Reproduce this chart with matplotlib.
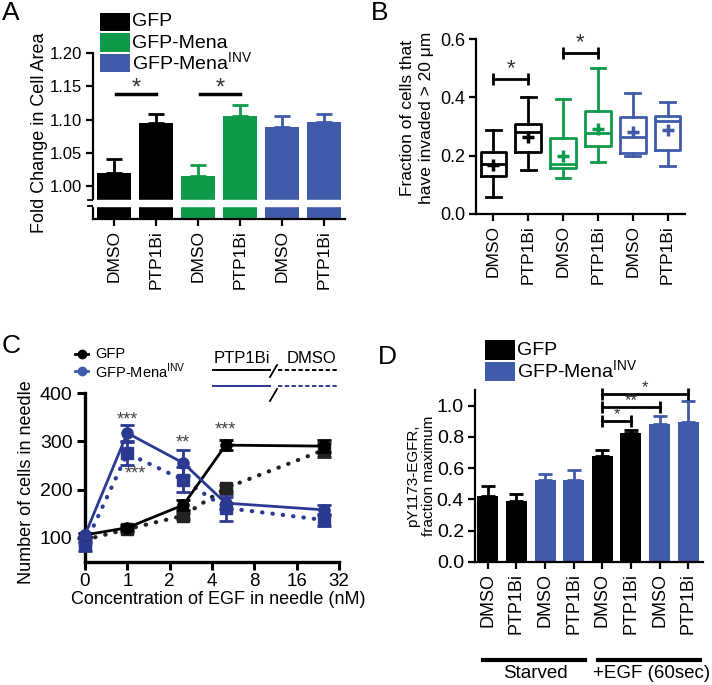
import matplotlib
matplotlib.use('Agg')
import matplotlib.pyplot as plt
from matplotlib.lines import Line2D
from matplotlib.patches import Rectangle
import numpy as np

plt.rcParams['font.family'] = ['Liberation Sans', 'DejaVu Sans']
plt.rcParams['mathtext.fontset'] = 'custom'
plt.rcParams['mathtext.rm'] = 'Liberation Sans'
plt.rcParams['axes.linewidth'] = 1.6
plt.rcParams['xtick.major.width'] = 1.6
plt.rcParams['ytick.major.width'] = 1.6

W, H = 712, 685
BLACK = '#000000'
GREEN = '#0f9a4b'
BLUE = '#3f5ba9'
NAVY = '#2b3990'
SQ = '#222222'
INV = 'GFP-Mena$^{\\mathregular{INV}}$'

# --- panel A: fold change in cell area
a_labels = ['DMSO', 'PTP1Bi', 'DMSO', 'PTP1Bi', 'DMSO', 'PTP1Bi']
a_means = [1.020, 1.095, 1.015, 1.106, 1.089, 1.096]
a_errs = [0.021, 0.013, 0.017, 0.016, 0.016, 0.012]
a_colors = [BLACK, BLACK, GREEN, GREEN, BLUE, BLUE]
a_yticks = [1.00, 1.05, 1.10, 1.15, 1.20]

# --- panel B: invasion box plots
b_labels = ['DMSO', 'PTP1Bi', 'DMSO', 'PTP1Bi', 'DMSO', 'PTP1Bi']
b_colors = [BLACK, BLACK, GREEN, GREEN, BLUE, BLUE]
b_whislo = [0.057, 0.151, 0.122, 0.177, 0.200, 0.163]
b_q1 = [0.130, 0.214, 0.157, 0.234, 0.210, 0.221]
b_med = [0.170, 0.280, 0.170, 0.278, 0.265, 0.319]
b_q3 = [0.214, 0.309, 0.259, 0.353, 0.334, 0.336]
b_whishi = [0.288, 0.401, 0.394, 0.502, 0.416, 0.384]
b_mean = [0.168, 0.263, 0.200, 0.293, 0.280, 0.288]

# --- panel C: cells in needle vs EGF
c_conc = [0, 1, 2.5, 5, 25]
c_xticklabels = ['0', '1', '2', '4', '8', '16', '32']
gfp_ptp = [106, 121, 168, 292, 290]
gfp_ptp_err = [5, 5, 10, 11, 12]
gfp_dmso = [96, 118, 146, 203, 282]
gfp_dmso_err = [5, 5, 6, 6, 15]
inv_ptp = [106, 317, 255, 172, 158]
inv_ptp_err = [5, 17, 27, 12, 10]
inv_dmso = [86, 275, 220, 162, 137]
inv_dmso_err = [14, 24, 26, 28, 12]

# --- panel D: pY1173-EGFR
d_labels = ['DMSO', 'PTP1Bi'] * 4
d_means = [0.420, 0.392, 0.525, 0.525, 0.680, 0.828, 0.883, 0.894]
d_errs = [0.068, 0.042, 0.035, 0.063, 0.038, 0.016, 0.053, 0.134]
d_colors = [BLACK, BLACK, BLUE, BLUE, BLACK, BLACK, BLUE, BLUE]

fig = plt.figure(figsize=(W / 100, H / 100), dpi=100)


def axes_px(left, top, right, bottom):
    return fig.add_axes([left / W, 1 - bottom / H, (right - left) / W, (bottom - top) / H])


def fline(xs, ys, **kw):
    fig.add_artist(Line2D(np.array(xs) / W, 1 - np.array(ys) / H,
                          transform=fig.transFigure, **kw))


def ftext(x, y, s, **kw):
    fig.text(x / W, 1 - y / H, s, **kw)


def frect(x0, y0, x1, y1, color):
    fig.add_artist(Rectangle((x0 / W, 1 - y1 / H), (x1 - x0) / W, (y1 - y0) / H,
                             transform=fig.transFigure, color=color, lw=0))


def bracket(ax, x1, x2, y, star, dy, fs=13, color='k', sc='#333333'):
    ax.plot([x1, x2], [y, y], color=color, lw=2, marker='|', ms=9, mew=2,
            clip_on=False)
    ax.text((x1 + x2) / 2, y + dy, star, ha='center', va='center',
            fontsize=fs, color=sc)


def style(ax):
    for s in ['top', 'right']:
        ax.spines[s].set_visible(False)
    ax.tick_params(direction='out', length=5, pad=3)


# ================= A =================
axA = axes_px(93, 53, 345, 219)
xa = np.arange(len(a_means))
axA.bar(xa, a_means, width=0.83, color=a_colors, zorder=2)
for i in xa:
    axA.errorbar(i, a_means[i], yerr=[[0], [a_errs[i]]], color=a_colors[i],
                 capsize=6, elinewidth=2, capthick=2, zorder=1)
axA.set_xlim(-0.5, 5.5)
axA.set_ylim(0.951, 1.20)
style(axA)
axA.spines['left'].set_visible(False)
axA.plot([-0.5, -0.5], [0.951, 0.970], color='k', lw=1.6, clip_on=False)
axA.plot([-0.5, -0.5], [0.980, 1.20], color='k', lw=1.6, clip_on=False)
axA.plot([-0.62, -0.5], [0.970, 0.970], color='k', lw=1.3, clip_on=False)
axA.plot([-0.62, -0.5], [0.980, 0.980], color='k', lw=1.3, clip_on=False)
axA.axhspan(0.970, 0.980, color='white', zorder=5)
axA.set_yticks(a_yticks)
axA.set_yticklabels(['%.2f' % v for v in a_yticks], fontsize=12)
axA.set_xticks(xa)
axA.set_xticklabels(a_labels, rotation=90, fontsize=12.5)
axA.plot([0.05, 1.0], [1.139, 1.139], color='k', lw=2.5)
axA.text(0.52, 1.147, '*', ha='center', va='center', fontsize=17, color='#333333')
axA.plot([2.05, 3.0], [1.139, 1.139], color='k', lw=2.5)
axA.text(2.52, 1.147, '*', ha='center', va='center', fontsize=17, color='#333333')

ftext(40, 133, 'Fold Change in Cell Area', rotation=90, ha='center', va='center', fontsize=13)
frect(100, 13, 130, 31, BLACK)
frect(100, 33, 130, 52, GREEN)
frect(100, 54, 130, 72, BLUE)
ftext(132, 22, 'GFP', ha='left', va='center', fontsize=14)
ftext(132, 43, 'GFP-Mena', ha='left', va='center', fontsize=14)
ftext(132, 63, INV, ha='left', va='center', fontsize=14)

# ================= B =================
axB = axes_px(476, 39, 685, 214)
stats = []
for i in range(len(b_med)):
    stats.append(dict(med=b_med[i], q1=b_q1[i], q3=b_q3[i], whislo=b_whislo[i],
                      whishi=b_whishi[i], mean=b_mean[i], fliers=[]))
bp = axB.bxp(stats, positions=range(len(stats)), widths=0.74, showmeans=True,
             capwidths=0.42, patch_artist=False)
for i, c in enumerate(b_colors):
    bp['boxes'][i].set(color=c, lw=2)
    bp['medians'][i].set(color=c, lw=2)
    for w in bp['whiskers'][2 * i:2 * i + 2]:
        w.set(color=c, lw=2)
    for cp in bp['caps'][2 * i:2 * i + 2]:
        cp.set(color=c, lw=2)
    bp['means'][i].set(marker='+', markeredgecolor=c, markersize=8, mew=2.5)
axB.set_xlim(-0.5, 5.5)
axB.set_ylim(0, 0.6)
style(axB)
axB.set_yticks([0, 0.2, 0.4, 0.6])
axB.set_yticklabels(['0.0', '0.2', '0.4', '0.6'], fontsize=13)
axB.set_xticks(range(6))
axB.set_xticklabels(b_labels, rotation=90, fontsize=12.5)
bracket(axB, 0, 1, 0.463, '*', 0.035, fs=16)
bracket(axB, 2, 3, 0.551, '*', 0.035, fs=16)
ftext(417, 118, 'Fraction of cells that\nhave invaded > 20 \u03bcm', rotation=90,
      ha='center', va='center', fontsize=12.5, linespacing=1.3)

# ================= C =================
axC = axes_px(85, 393, 339, 562)
xc = [np.log2(c) + 1 if c > 0 else 0 for c in c_conc]
dot = dict(ls=(0, (0.1, 2.4)), dash_capstyle='round', lw=3)
axC.errorbar(xc, gfp_dmso, yerr=gfp_dmso_err, color=SQ, marker='s', ms=8,
             capsize=5, elinewidth=2, capthick=2, clip_on=False, zorder=3, **dot)
axC.errorbar(xc, inv_dmso, yerr=inv_dmso_err, color=NAVY, marker='s', ms=8,
             capsize=5, elinewidth=2, capthick=2, clip_on=False, zorder=3, **dot)
axC.errorbar(xc, gfp_ptp, yerr=gfp_ptp_err, color=BLACK, marker='o', ms=8, lw=2,
             capsize=5, elinewidth=2, capthick=2, clip_on=False, zorder=4)
axC.errorbar(xc, inv_ptp, yerr=inv_ptp_err, color=NAVY, marker='o', ms=8, lw=2,
             capsize=5, elinewidth=2, capthick=2, clip_on=False, zorder=4)
axC.set_xlim(0, 6)
axC.set_ylim(50, 400)
style(axC)
for s in ['left', 'bottom']:
    axC.spines[s].set_linewidth(2.4)
axC.tick_params(width=2.2, length=6)
axC.tick_params(axis='x', pad=2)
axC.set_yticks([100, 200, 300, 400])
axC.set_yticklabels(['100', '200', '300', '400'], fontsize=14)
axC.set_xticks(range(7))
axC.set_xticklabels(c_xticklabels, fontsize=13.5)
sc = '#444444'
axC.text(1.0, 345, '***', ha='center', va='center', fontsize=13, color=sc)
axC.text(1.18, 233, '***', ha='center', va='center', fontsize=13, color=sc)
axC.text(2.32, 297, '**', ha='center', va='center', fontsize=13, color=sc)
axC.text(3.31, 324, '***', ha='center', va='center', fontsize=13, color=sc)
ftext(27, 482, 'Number of cells in needle', rotation=90, ha='center', va='center', fontsize=13)
ftext(218, 599, 'Concentration of EGF in needle (nM)', ha='center', va='center', fontsize=13)

# legend
fline([75, 81.5, 88], [354, 354, 354], color='k', lw=2, marker='o', ms=6, markevery=[1])
fline([75, 81.5, 88], [371, 371, 371], color=BLUE, lw=2, marker='o', ms=6, markevery=[1])
ftext(95, 354, 'GFP', ha='left', va='center', fontsize=10.5)
ftext(95, 371, INV, ha='left', va='center', fontsize=10.5)
# line style key
ftext(214, 363, 'PTP1Bi', ha='left', va='baseline', fontsize=12)
ftext(287, 363, 'DMSO', ha='left', va='baseline', fontsize=12)
fline([213, 270], [370, 370], color='k', lw=1.4)
fline([278, 337], [370, 370], color='k', lw=1.4, ls=(0, (2.2, 1.3)))
fline([213, 270], [386, 386], color=NAVY, lw=1.4)
fline([278, 337], [386, 386], color=NAVY, lw=1.4, ls=(0, (2.2, 1.3)))
fline([270, 277], [377, 365], color='k', lw=1.3)
fline([270, 277], [401, 389], color='k', lw=1.3)

# ================= D =================
axD = axes_px(475, 390, 703, 562)
xd = np.arange(len(d_means))
axD.bar(xd, d_means, width=0.73, color=d_colors, zorder=2)
for i in xd:
    axD.errorbar(i, d_means[i], yerr=[[0], [d_errs[i]]], color=d_colors[i],
                 capsize=5, elinewidth=2, capthick=2, zorder=1)
axD.set_xlim(-0.45, 7.52)
axD.set_ylim(0, 1.1)
style(axD)
axD.set_yticks([0, 0.2, 0.4, 0.6, 0.8, 1.0])
axD.set_yticklabels(['0.0', '0.2', '0.4', '0.6', '0.8', '1.0'], fontsize=14)
axD.set_xticks(xd)
axD.set_xticklabels(d_labels, rotation=90, fontsize=13)
bracket(axD, 4, 5, 0.900, '*', 0.040, fs=12)
bracket(axD, 4, 6, 0.989, '**', 0.040, fs=12)
bracket(axD, 4, 7, 1.075, '*', 0.040, fs=12)
ftext(421, 476, 'pY1173-EGFR,\nfraction maximum', rotation=90, ha='center',
      va='center', fontsize=11, linespacing=1.1)
frect(485, 340, 515, 360, BLACK)
frect(485, 362, 515, 381, BLUE)
ftext(517, 350, 'GFP', ha='left', va='center', fontsize=14)
ftext(517, 371, INV, ha='left', va='center', fontsize=14)
fline([483, 585], [660, 660], color='k', lw=3)
fline([598, 700], [660, 660], color='k', lw=3)
ftext(535, 674, 'Starved', ha='center', va='center', fontsize=13.5)
ftext(652, 674, '+EGF (60sec)', ha='center', va='center', fontsize=13.5)

# panel letters
ftext(11, 13, 'A', ha='center', va='center', fontsize=19)
ftext(380, 13, 'B', ha='center', va='center', fontsize=19)
ftext(11, 346, 'C', ha='center', va='center', fontsize=19)
ftext(387, 357, 'D', ha='center', va='center', fontsize=19)

fig.savefig('out.png', dpi=100)
